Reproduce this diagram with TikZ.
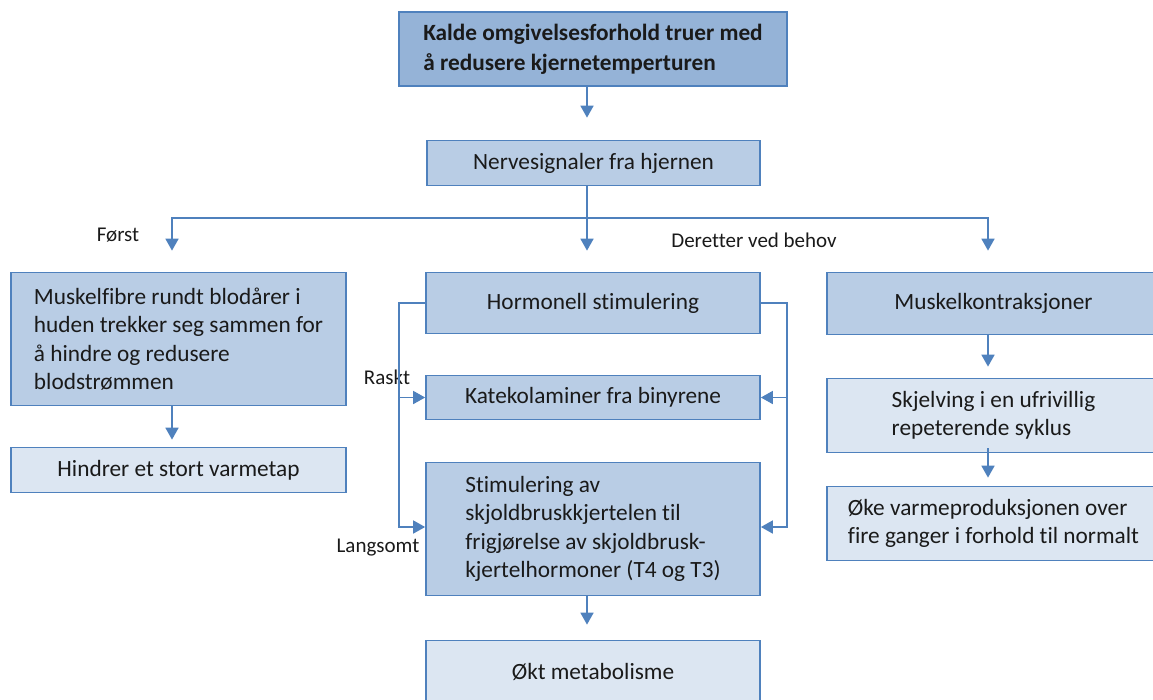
\documentclass[tikz,border=0pt]{standalone}
\usepackage{fontspec}
\setmainfont[Ligatures=NoCommon]{Carlito}
\usetikzlibrary{arrows.meta}
\definecolor{lineblue}{HTML}{4F81BD}
\definecolor{filldark}{HTML}{95B3D7}
\definecolor{fillmid}{HTML}{B9CDE5}
\definecolor{filllight}{HTML}{DCE6F2}
\definecolor{ink}{HTML}{1A1A1A}
\begin{document}
\begin{tikzpicture}[x=1pt,y=-1pt,
  box/.style={draw=lineblue,line width=1.7pt,text=ink,align=left,inner sep=0pt,
    font=\fontsize{23.3}{28.4}\selectfont},
  dark/.style={box,fill=filldark},
  mid/.style={box,fill=fillmid},
  light/.style={box,fill=filllight},
  link/.style={draw=lineblue,line width=1.7pt},
  arr/.style={link,-{Triangle[width=13pt,length=12pt]}},
  lbl/.style={text=ink,inner sep=0pt,font=\fontsize{21}{25}\selectfont}]
\useasboundingbox (0,0) rectangle (1153,699);
\clip (0,0) rectangle (1153,699);

% column and bracket positions
\coordinate (colL) at (172,0);
\coordinate (colM) at (587,0);
\coordinate (colR) at (988,0);
\coordinate (split) at (587,218);
\coordinate (brL) at (399,0);
\coordinate (brR) at (787,0);
\coordinate (brLbot) at (399,527);
\coordinate (brRbot) at (787,527);

% boxes
\node[dark, minimum width=388, minimum height=74] (top) at (593,49)
  {\textbf{Kalde omgivelsesforhold truer med}\\[1.5pt]\textbf{å redusere kjernetemperturen}};
\node[mid, minimum width=333, minimum height=45] (nerve) at (593.5,163)
  {Nervesignaler fra hjernen};

\node[mid, minimum width=335, minimum height=133] (muskel) at (178.5,339)
  {Muskelfibre rundt blodårer i\\huden trekker seg sammen for\\å hindre og redusere\\blodstrømmen};
\node[light, minimum width=335, minimum height=45] (hindrer) at (178.5,470)
  {Hindrer et stort varmetap};

\node[mid, minimum width=334, minimum height=61] (hormon) at (593,303)
  {Hormonell stimulering};
\node[mid, minimum width=334, minimum height=44] (kate) at (593,397.5)
  {Katekolaminer fra binyrene};
\node[mid, minimum width=334, minimum height=133] (stim) at (593,529)
  {Stimulering av\\skjoldbruskkjertelen til\\frigjørelse av skjoldbrusk-\\kjertelhormoner (T4 og T3)};
\node[light, minimum width=334, minimum height=62] (okt) at (593,671.5)
  {Økt metabolisme};

\node[mid, minimum width=333, minimum height=62] (kontr) at (993.5,303.5)
  {Muskelkontraksjoner};
\node[light, minimum width=333, minimum height=74] (skjelv) at (993.5,415.5)
  {Skjelving i en ufrivillig\\repeterende syklus};
\node[light, minimum width=333, minimum height=74] (oke) at (993.5,523.5)
  {Øke varmeproduksjonen over\\fire ganger i forhold til normalt};

% connector labels
\node[lbl] (forst) at (118,235) {Først};
\node[lbl] (deretter) at (754,240) {Deretter ved behov};
\node[lbl] (raskt) at (387,377) {Raskt};
\node[lbl] (langsomt) at (378,548) {Langsomt};

% main trunk and branches
\draw[arr, shorten >=22pt] (top.south -| colM) -- (nerve.north -| colM);
\draw[link] (nerve.south -| colM) -- (split);
\draw[arr, shorten >=21pt] (split) -| (muskel.north -| colL);
\draw[arr, shorten >=21pt] (split) -- (hormon.north -| colM);
\draw[arr, shorten >=21pt] (split) -| (kontr.north -| colR);

% left column
\draw[arr, shorten >=7pt] (muskel.south -| colL) -- (hindrer.north -| colL);

% hormonal brackets
\draw[arr] (hormon.west) -| (brLbot) -- (stim.west |- brLbot);
\draw[arr] (kate.west -| brL) -- (kate.west);
\draw[arr] (hormon.east) -| (brRbot) -- (stim.east |- brRbot);
\draw[arr] (kate.east -| brR) -- (kate.east);
\draw[arr, shorten >=15pt] (stim.south -| colM) -- (okt.north -| colM);

% right column
\draw[arr, shorten >=11pt] (kontr.south -| colR) -- (skjelv.north -| colR);
\draw[arr, shorten <=-5pt, shorten >=8pt] (skjelv.south -| colR) -- (oke.north -| colR);
\end{tikzpicture}
\end{document}
